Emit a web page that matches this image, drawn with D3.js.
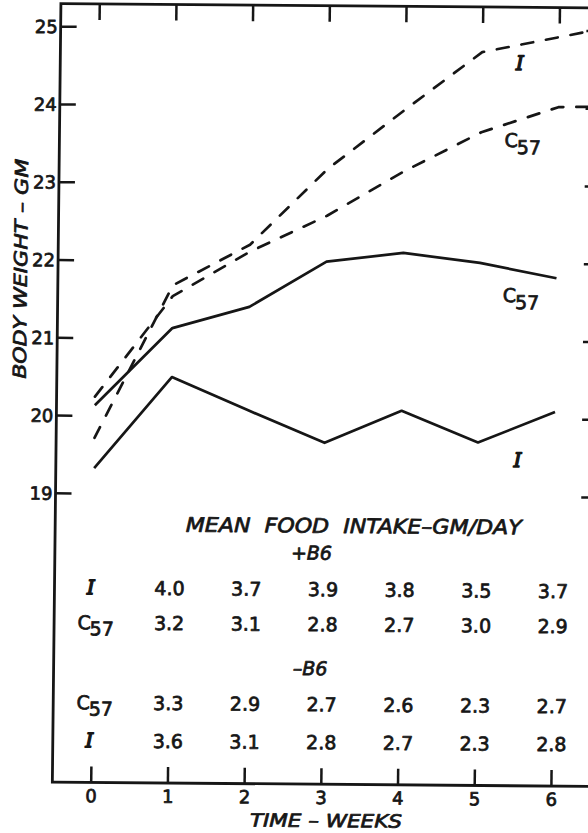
<!DOCTYPE html>
<html>
<head>
<meta charset="utf-8">
<script src="https://cdn.jsdelivr.net/npm/d3@7/dist/d3.min.js"></script>
<style>
  html, body { margin: 0; padding: 0; background: #ffffff; }
  svg { display: block; }
  text { fill: #161616; stroke: #161616; stroke-width: 0.75px; stroke-linejoin: round; }
</style>
</head>
<body>
<script>
// Body weight (gm) by week, two strains, solid and dashed groups
const weeks      = [0, 1, 2, 3, 4, 5, 6];
const weeksLong  = [0, 1, 2, 3, 4, 5, 6, 6.5];
const solidI     = [19.32, 20.50, 20.08, 19.67, 20.09, 19.69, 20.09];
const solidC57   = [20.13, 21.13, 21.41, 22.00, 22.12, 22.00, 21.81];
const dashedI    = [19.71, 21.68, 22.21, 23.19, 23.96, 24.71, 24.91, 25.01];
const dashedC57  = [20.24, 21.54, 22.12, 22.59, 23.17, 23.68, 24.01, 24.02];

// Axis ticks
const yTicks = [19, 20, 21, 22, 23, 24, 25];
const xTicks = [0, 1, 2, 3, 4, 5, 6];

// Mean food intake, gm/day, weeks 1-6
const plusB6_I    = [4.0, 3.7, 3.9, 3.8, 3.5, 3.7];
const plusB6_C57  = [3.2, 3.1, 2.8, 2.7, 3.0, 2.9];
const minusB6_C57 = [3.3, 2.9, 2.7, 2.6, 2.3, 2.7];
const minusB6_I   = [3.6, 3.1, 2.8, 2.7, 2.3, 2.8];

const W = 588, H = 833;
const INK = "#161616";
const SANS = "'DejaVu Sans', 'Liberation Sans', sans-serif";
const SERIF = "'DejaVu Serif', 'Liberation Serif', serif";

const x = d3.scaleLinear().domain([-0.5, 6.5]).range([56.4, 593.3]);
const y = d3.scaleLinear().domain([19, 25]).range([494.7, 28.1]);
const frameTop = 5.5, frameBottom = 784;
const frameLeft = x(-0.5), frameRight = x(6.55);

const svg = d3.select("body").append("svg")
  .attr("width", W).attr("height", H)
  .attr("viewBox", `0 0 ${W} ${H}`);

// the drawing sits very slightly askew on the sheet
const a = -0.011, b = 0.008, cx = 294, cy = 416;
const g = svg.append("g")
  .attr("transform", `matrix(1 ${b} ${a} 1 ${-a * cy} ${-b * cx})`);

// frame
g.append("path")
  .attr("d", `M${frameRight},${frameTop} L${frameLeft},${frameTop} L${frameLeft},${frameBottom} L${frameRight},${frameBottom} Z`)
  .attr("fill", "none").attr("stroke", INK).attr("stroke-width", 2.8)
  .attr("stroke-linejoin", "miter");

function styleAxis(sel) {
  sel.select(".domain").remove();
  sel.selectAll(".tick line").attr("stroke", INK).attr("stroke-width", 2.5);
  sel.selectAll("text").attr("fill", INK).attr("font-family", SANS);
}

// left axis: inward ticks, labels outside
g.append("g").attr("transform", `translate(${frameLeft},0)`)
  .call(d3.axisLeft(y).tickValues(yTicks).tickSizeInner(-16).tickSizeOuter(0)
        .tickPadding(3).tickFormat(d3.format("d")))
  .call(styleAxis)
  .call(s => s.selectAll("text").attr("font-size", 18).attr("dy", "0.36em"));

// right axis ticks
g.append("g").attr("transform", `translate(${frameRight},0)`)
  .call(d3.axisRight(y).tickValues(yTicks).tickSizeInner(-15).tickSizeOuter(0).tickFormat(""))
  .call(styleAxis);

// top axis ticks
g.append("g").attr("transform", `translate(0,${frameTop})`)
  .call(d3.axisTop(x).tickValues(xTicks).tickSizeInner(-16).tickSizeOuter(0).tickFormat(""))
  .call(styleAxis);

// bottom axis
g.append("g").attr("transform", `translate(0,${frameBottom})`)
  .call(d3.axisBottom(x).tickValues(xTicks).tickSizeInner(-16).tickSizeOuter(0)
        .tickPadding(7).tickFormat(d3.format("d")))
  .call(styleAxis)
  .call(s => s.selectAll("text").attr("font-size", 18));

// axis titles
g.append("text")
  .attr("transform", `translate(25.4,271) rotate(-90)`)
  .attr("text-anchor", "middle")
  .attr("font-family", SANS).attr("font-style", "italic").attr("font-size", 18)
  .attr("textLength", 220).attr("lengthAdjust", "spacingAndGlyphs")
  .text("BODY WEIGHT – GM");

g.append("text")
  .attr("x", 330.4).attr("y", 826.7)
  .attr("text-anchor", "middle")
  .attr("font-family", SANS).attr("font-style", "italic").attr("font-size", 18)
  .attr("textLength", 152).attr("lengthAdjust", "spacingAndGlyphs")
  .text("TIME – WEEKS");

// weight curves
const line = d3.line().x(d => x(d[0])).y(d => y(d[1]));
const series = [
  { xs: weeks,     vs: solidI,    dash: null },
  { xs: weeks,     vs: solidC57,  dash: null },
  { xs: weeksLong, vs: dashedI,   dash: "12 13" },
  { xs: weeksLong, vs: dashedC57, dash: "12 13" }
];
series.forEach(s => {
  g.append("path")
    .datum(s.xs.map((w, i) => [w, s.vs[i]]))
    .attr("d", line)
    .attr("fill", "none")
    .attr("stroke", INK)
    .attr("stroke-width", 2.7)
    .attr("stroke-linejoin", "round")
    .attr("stroke-linecap", s.dash ? "round" : "butt")
    .attr("stroke-dasharray", s.dash);
});

// strain labels on the curves
function strainI(px, py, size) {
  g.append("text").attr("x", px).attr("y", py)
    .attr("text-anchor", "middle")
    .attr("font-family", SERIF).attr("font-style", "italic").attr("font-size", size)
    .style("stroke-width", "1.3px")
    .text("I");
}
function strainC57(px, py, size, sub) {
  const t = g.append("text").attr("x", px).attr("y", py)
    .attr("font-family", SANS).attr("font-size", size);
  t.append("tspan").text("C");
  t.append("tspan").attr("dy", sub).attr("dx", -1).text("57");
}
strainI(516, 68.2, 20);
strainC57(501.5, 145.3, 19, 7);
strainC57(501.5, 300.3, 19, 7);
strainI(518, 465.2, 20);

// food intake table
g.append("text")
  .attr("x", 355).attr("y", 532.5).attr("text-anchor", "middle")
  .attr("font-family", SANS).attr("font-style", "italic").attr("font-size", 20)
  .attr("textLength", 336).attr("lengthAdjust", "spacingAndGlyphs")
  .attr("xml:space", "preserve")
  .text("MEAN  FOOD  INTAKE–GM/DAY");

function groupHead(label, py) {
  g.append("text")
    .attr("x", 313).attr("y", py).attr("text-anchor", "middle")
    .attr("font-family", SANS).attr("font-style", "italic").attr("font-size", 19)
    .text(label);
}
groupHead("+B6", 559.5);
groupHead("–B6", 675);

const fmt = d3.format(".1f");
function tableRow(strain, values, py) {
  if (strain === "I") {
    g.append("text").attr("x", x(0) - 2).attr("y", py)
      .attr("text-anchor", "middle")
      .attr("font-family", SERIF).attr("font-style", "italic").attr("font-size", 20)
      .style("stroke-width", "1.3px")
      .text("I");
  } else {
    strainC57(x(0) - 15, py, 19, 6);
  }
  g.append("g").selectAll("text").data(values).join("text")
    .attr("x", (d, i) => x(i + 1))
    .attr("y", py)
    .attr("text-anchor", "middle")
    .attr("font-family", SANS).attr("font-size", 19)
    .text(d => fmt(d));
}
tableRow("I",   plusB6_I,    596);
tableRow("C57", plusB6_C57,  631);
tableRow("C57", minusB6_C57, 711);
tableRow("I",   minusB6_I,   749);
</script>
</body>
</html>
